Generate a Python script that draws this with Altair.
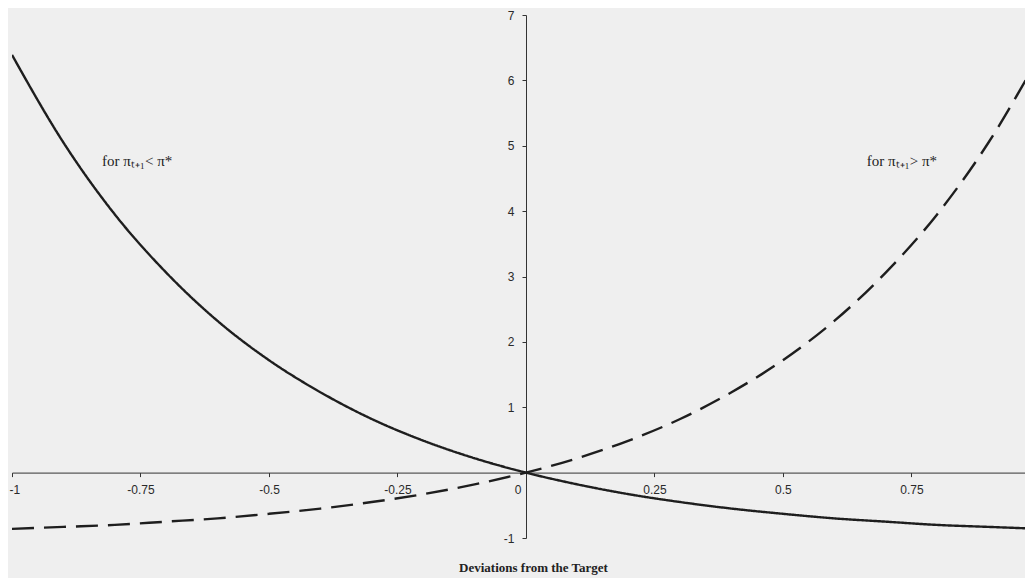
import altair as alt
import pandas as pd

xs = [-1.0, -0.9, -0.8, -0.7, -0.6, -0.5, -0.4, -0.3, -0.2, -0.1, 0.0,
      0.1, 0.2, 0.3, 0.4, 0.5, 0.6, 0.7, 0.8, 0.9, 1.0]
solid_vals = [6.39, 5.05, 3.95, 3.06, 2.32, 1.72, 1.23, 0.82, 0.49, 0.22, 0.0,
              -0.18, -0.33, -0.45, -0.55, -0.63, -0.70, -0.75, -0.80, -0.83, -0.86]
dashed_vals = [-0.86, -0.83, -0.80, -0.75, -0.70, -0.63, -0.55, -0.45, -0.33, -0.18, 0.0,
               0.22, 0.49, 0.82, 1.23, 1.72, 2.32, 3.06, 3.95, 5.05, 6.39]
x_ticks = [-1, -0.75, -0.5, -0.25, 0, 0.25, 0.5, 0.75]
y_ticks = [-1, 1, 2, 3, 4, 5, 6, 7]
labels = ["for π\u209c\u208a\u2081< π*", "for π\u209c\u208a\u2081> π*"]
label_x = [-0.825, 0.663]
label_y = [4.76, 4.76]

df = pd.DataFrame({
    "x": xs * 2,
    "y": solid_vals + dashed_vals,
    "s": ["solid"] * len(xs) + ["dashed"] * len(xs),
})
lab = pd.DataFrame({"x": label_x, "y": label_y, "t": labels})

xdom = [-1, 0.971]
xscale = alt.Scale(domain=xdom, nice=False, zero=False)
yscale = alt.Scale(domain=[-1, 7], nice=False)

base = alt.Chart(df)

lines = base.mark_line(clip=True, strokeWidth=2.4, color="#1e1e1e", interpolate="monotone").encode(
    x=alt.X("x:Q", scale=xscale, axis=alt.Axis(
        values=x_ticks, offset=-65.4, domainColor="#333", tickColor="#333",
        tickSize=4, labelFont="Liberation Sans", labelFontSize=12, labelColor="#2a2a2a",
        labelPadding=8, grid=False, labelFlush=False, labelOverlap=False,
        labelExpr="'' + datum.value",
        labelAlign={"expr": "datum.value == 0 ? 'right' : (datum.value == -1 ? 'left' : 'center')"},
        labelOffset={"expr": "datum.value == 0 ? -5 : (datum.value == -1 ? -3 : 0)"},
        title="Deviations from the Target", titleFont="Liberation Serif",
        titleFontSize=13, titleFontWeight="bold", titleColor="#222",
        titleY=89, titleX=521)),
    y=alt.Y("y:Q", scale=yscale, axis=alt.Axis(
        values=y_ticks, offset=-514, domainColor="#333", tickColor="#333",
        tickSize=4, labelFont="Liberation Sans", labelFontSize=12, labelColor="#2a2a2a",
        labelPadding=8, grid=False, labelFlush=False, labelOverlap=False,
        labelExpr="'' + datum.value", title=None)),
    strokeDash=alt.StrokeDash("s:N", scale=alt.Scale(domain=["solid", "dashed"],
                                                      range=[[1, 0], [22, 10]]), legend=None),
)

texts = alt.Chart(lab).mark_text(align="left", baseline="middle", font="Liberation Serif",
                                  fontSize=15, color="#222").encode(
    x=alt.X("x:Q", scale=xscale), y=alt.Y("y:Q", scale=yscale), text="t:N")

chart = (lines + texts).properties(
    width=1013, height=523,
    autosize=alt.AutoSizeParams(type="none"),
    padding={"left": 4, "top": 7, "right": 0, "bottom": 40},
    background="#efefef",
).configure_view(stroke=None)

chart.save("out.html", embed_options={"renderer": "svg", "actions": False})
